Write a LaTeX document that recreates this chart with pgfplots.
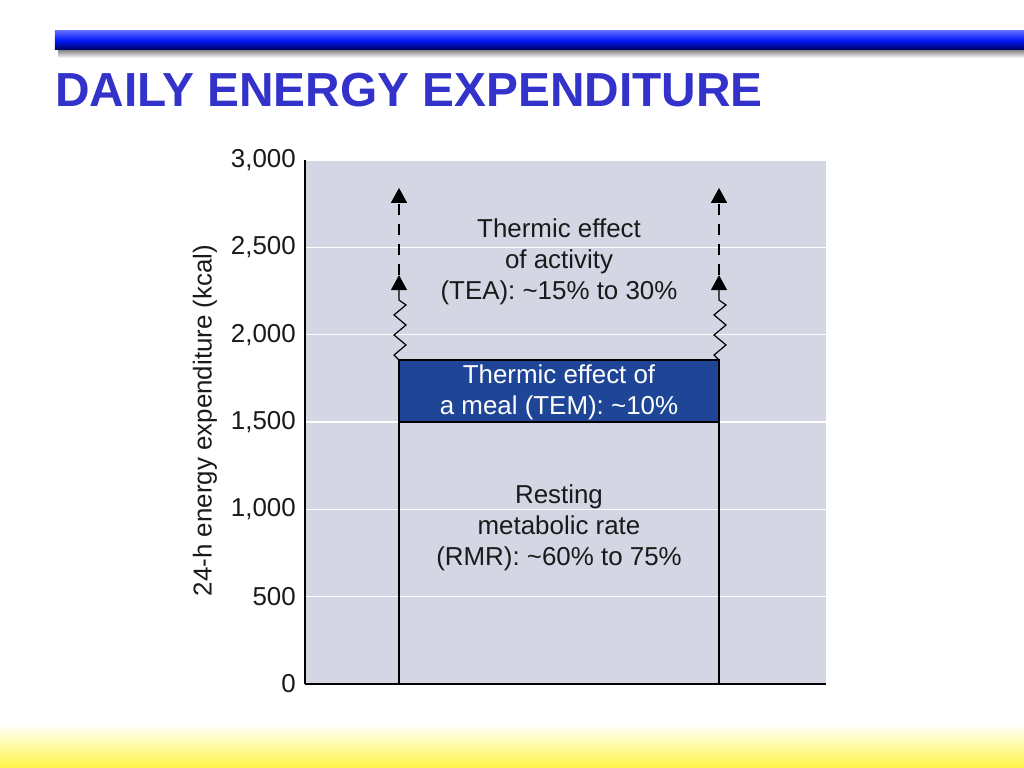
\documentclass[border=0pt]{standalone}
\usepackage{pgfplots}
\pgfplotsset{compat=1.18}
\usepackage{fontspec}
\setmainfont{Liberation Sans}
\usetikzlibrary{arrows.meta}
\pgfdeclarelayer{bg}
\pgfsetlayers{bg,main}
\definecolor{bgcol}{HTML}{D4D6E4}
\definecolor{temblue}{HTML}{1F4596}
\definecolor{titleblue}{HTML}{3333CC}
\definecolor{barblue}{HTML}{0018F5}
\definecolor{barlight}{HTML}{5A68FF}
\definecolor{bardark}{HTML}{00005A}
\definecolor{yel}{HTML}{FFF545}
\definecolor{txt}{HTML}{1A1A1A}
\begin{document}
\begin{tikzpicture}[x=1bp,y=1bp]
\begin{axis}[
  name=ax,
  at={(0,0)}, anchor=south west,
  scale only axis, width=521bp, height=524bp,
  xmin=0, xmax=521, ymin=0, ymax=3000,
  axis x line=bottom, axis y line=left,
  axis line style={-, line width=1.6bp, black},
  xtick=\empty,
  ytick={0,500,1000,1500,2000,2500,3000},
  major tick length=0pt,
  /pgf/number format/assume math mode=true,
  /pgf/number format/1000 sep={,},
  ticklabel style={font=\fontsize{26}{30}\selectfont, text=txt},
  yticklabel style={inner sep=0pt, xshift=-9bp},
  ymajorgrids, grid style={white, line width=1.6bp},
  axis background/.style={fill=bgcol},
  ylabel={24-h energy expenditure (kcal)},
  ylabel style={at={(axis description cs:0,0.503)}, anchor=center, yshift=100bp, font=\fontsize{26}{30}\selectfont, text=txt},
  clip=false,
]
% TEM box
\addplot[fill=temblue, draw=black, line width=1.2bp] coordinates {(94,1500) (414,1500) (414,1855) (94,1855)} -- cycle;
% vertical lines
\addplot[black, line width=1.8bp] coordinates {(94,0) (94,1855)};
\addplot[black, line width=1.8bp] coordinates {(414,0) (414,1855)};
% zigzags with arrows
\addplot[black, line width=1.2bp, -{Triangle[width=16bp,length=15bp]}] coordinates {(94,1855) (89,1883) (101,1941) (89,1998) (101,2055) (89,2113) (101,2170) (94,2198) (94,2341)};
\addplot[black, line width=1.2bp, -{Triangle[width=16bp,length=15bp]}] coordinates {(414,1855) (409,1883) (421,1941) (409,1998) (421,2055) (409,2113) (421,2170) (414,2198) (414,2341)};
% dashed arrows
\addplot[black, line width=1.5bp, dash pattern=on 11bp off 9bp, -{Triangle[width=16bp,length=15bp]}] coordinates {(94,2341) (94,2840)};
\addplot[black, line width=1.5bp, dash pattern=on 11bp off 9bp, -{Triangle[width=16bp,length=15bp]}] coordinates {(414,2341) (414,2840)};
% texts
\node[align=center, text=txt, font=\fontsize{26}{31}\selectfont] at (axis cs:254,2415) {Thermic effect\\of activity\\(TEA): \textasciitilde15\% to 30\%};
\node[align=center, text=white, font=\fontsize{26}{31}\selectfont] at (axis cs:254,1672) {Thermic effect of\\a meal (TEM): \textasciitilde10\%};
\node[align=center, text=txt, font=\fontsize{26}{31}\selectfont] at (axis cs:254,893) {Resting\\metabolic rate\\(RMR): \textasciitilde60\% to 75\%};
\end{axis}
\begin{scope}[shift={(ax.south west)}]
\begin{scope}[shift={(-305,-84)}]
\begin{pgfonlayer}{bg}
\fill[white] (0,0) rectangle (1024,768);
\shade[top color=white, bottom color=yel] (0,0) rectangle (1024,44);
\end{pgfonlayer}
\shade[top color=black!55, bottom color=white] (58,710) rectangle (1024,719);
\shade[top color=barlight, bottom color=bardark, middle color=barblue] (55,718) rectangle (1024,737);
\node[anchor=base west, inner sep=0pt, text=titleblue, font=\fontsize{48}{56}\selectfont\bfseries] at (55,661) {DAILY ENERGY EXPENDITURE};
\end{scope}
\end{scope}
\end{tikzpicture}
\end{document}
